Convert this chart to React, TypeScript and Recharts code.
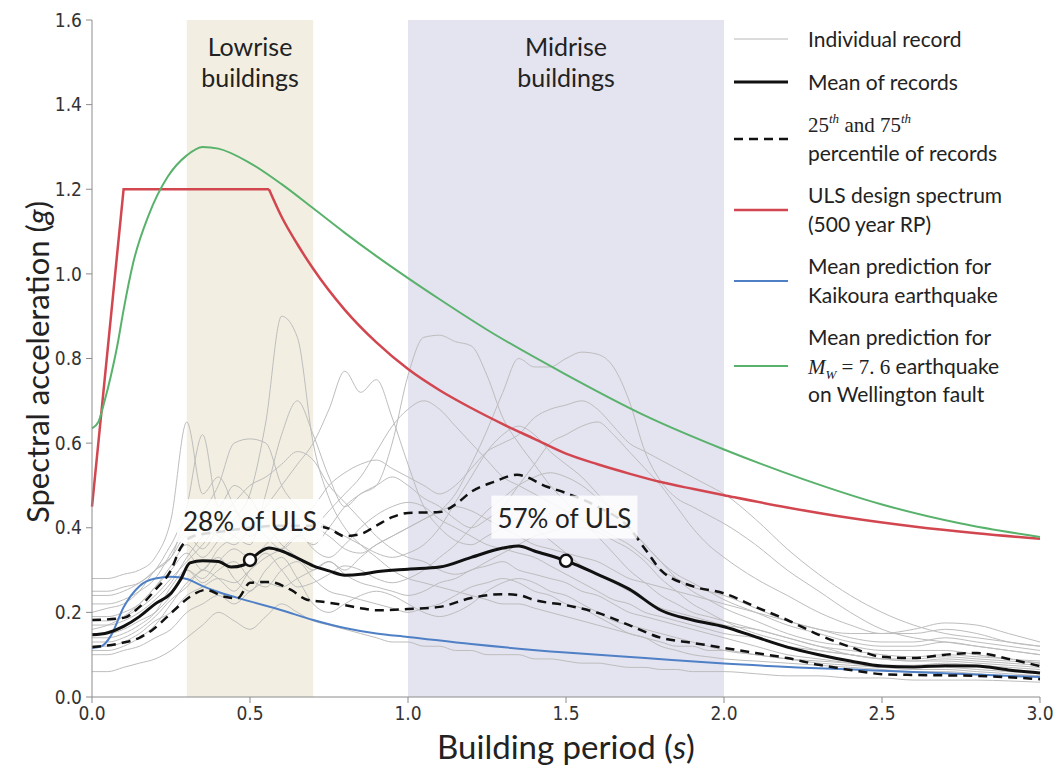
import React from 'react';
import { LineChart, Line, XAxis, YAxis, ReferenceArea, ReferenceDot, Label } from 'recharts';

// building period grid used by the individual records (s)
const PERIODS = [
  0, 0.05, 0.1, 0.15, 0.2, 0.25, 0.3, 0.35, 0.4, 0.45,
  0.5, 0.55, 0.6, 0.65, 0.7, 0.75, 0.8, 0.85, 0.9, 0.95,
  1.0, 1.05, 1.1, 1.15, 1.2, 1.25, 1.3, 1.35, 1.4, 1.45,
  1.5, 1.55, 1.6, 1.65, 1.7, 1.75, 1.8, 1.85, 1.9, 1.95,
  2.0, 2.1, 2.2, 2.3, 2.4, 2.5, 2.6, 2.7, 2.8, 2.9, 3.0,
];

// individual records, spectral acceleration (g) on PERIODS
const RECORD_01 = [
  0.16, 0.17, 0.19, 0.22, 0.26, 0.31, 0.36, 0.33, 0.37, 0.42,
  0.48, 0.65, 0.9, 0.85, 0.6, 0.47, 0.4, 0.36, 0.33, 0.3,
  0.28, 0.27, 0.26, 0.25, 0.24, 0.23, 0.22, 0.22, 0.21, 0.2,
  0.19, 0.18, 0.17, 0.16, 0.15, 0.14, 0.13, 0.12, 0.12, 0.11,
  0.11, 0.1, 0.09, 0.08, 0.075, 0.07, 0.065, 0.065, 0.06, 0.055, 0.05,
];
const RECORD_02 = [
  0.2, 0.21, 0.22, 0.25, 0.3, 0.33, 0.38, 0.35, 0.4, 0.44,
  0.4, 0.45, 0.5, 0.55, 0.6, 0.68, 0.77, 0.72, 0.75, 0.66,
  0.55, 0.45, 0.4, 0.37, 0.36, 0.38, 0.4, 0.42, 0.4, 0.37,
  0.34, 0.31, 0.29, 0.27, 0.25, 0.23, 0.21, 0.2, 0.19, 0.18,
  0.17, 0.16, 0.14, 0.12, 0.1, 0.09, 0.085, 0.09, 0.085, 0.08, 0.075,
];
const RECORD_03 = [
  0.12, 0.12, 0.13, 0.15, 0.18, 0.2, 0.24, 0.26, 0.28, 0.27,
  0.3, 0.33, 0.35, 0.38, 0.36, 0.4, 0.45, 0.48, 0.5, 0.6,
  0.76, 0.85, 0.855, 0.84, 0.83, 0.76, 0.66, 0.6, 0.55, 0.5,
  0.46, 0.42, 0.38, 0.34, 0.3, 0.27, 0.24, 0.22, 0.2, 0.19,
  0.18, 0.16, 0.14, 0.12, 0.11, 0.1, 0.095, 0.1, 0.095, 0.09, 0.08,
];
const RECORD_04 = [
  0.1, 0.1, 0.11, 0.12, 0.14, 0.16, 0.2, 0.22, 0.24, 0.22,
  0.25, 0.27, 0.26, 0.28, 0.3, 0.32, 0.3, 0.33, 0.36, 0.38,
  0.4, 0.42, 0.44, 0.48, 0.55, 0.63, 0.72, 0.8, 0.78, 0.78,
  0.8, 0.815, 0.81, 0.78, 0.7, 0.58, 0.51, 0.47, 0.45, 0.43,
  0.41, 0.36, 0.3, 0.25, 0.2, 0.16, 0.14, 0.13, 0.12, 0.11, 0.1,
];
const RECORD_05 = [
  0.28, 0.28, 0.29, 0.3, 0.33, 0.42, 0.65, 0.48, 0.52, 0.45,
  0.38, 0.4, 0.36, 0.33, 0.3, 0.32, 0.29, 0.27, 0.26, 0.25,
  0.24, 0.25, 0.27, 0.28, 0.3, 0.31, 0.32, 0.3, 0.29, 0.28,
  0.27, 0.25, 0.24, 0.22, 0.2, 0.19, 0.18, 0.17, 0.16, 0.15,
  0.14, 0.12, 0.1, 0.09, 0.08, 0.07, 0.07, 0.07, 0.065, 0.06, 0.055,
];
const RECORD_06 = [
  0.25, 0.25, 0.26, 0.27, 0.3, 0.33, 0.45, 0.62, 0.45, 0.5,
  0.47, 0.42, 0.45, 0.4, 0.35, 0.33, 0.36, 0.4, 0.43, 0.45,
  0.46, 0.45, 0.42, 0.4, 0.38, 0.36, 0.35, 0.34, 0.33, 0.31,
  0.29, 0.27, 0.25, 0.23, 0.22, 0.2, 0.19, 0.18, 0.17, 0.16,
  0.15, 0.14, 0.12, 0.11, 0.1, 0.09, 0.085, 0.085, 0.08, 0.075, 0.07,
];
const RECORD_07 = [
  0.22, 0.22, 0.23, 0.25, 0.28, 0.34, 0.4, 0.44, 0.5, 0.6,
  0.61, 0.6, 0.5, 0.45, 0.42, 0.4, 0.38, 0.36, 0.34, 0.33,
  0.34, 0.36, 0.4, 0.46, 0.52, 0.58, 0.62, 0.64, 0.62, 0.58,
  0.55, 0.52, 0.48, 0.44, 0.4, 0.36, 0.32, 0.29, 0.27, 0.25,
  0.23, 0.2, 0.17, 0.15, 0.13, 0.12, 0.12, 0.13, 0.12, 0.11, 0.1,
];
const RECORD_08 = [
  0.18, 0.18, 0.19, 0.21, 0.24, 0.28, 0.32, 0.36, 0.4, 0.38,
  0.36, 0.48, 0.62, 0.7, 0.62, 0.52, 0.45, 0.48, 0.5, 0.52,
  0.5, 0.47, 0.45, 0.42, 0.4, 0.42, 0.45, 0.5, 0.55, 0.6,
  0.62, 0.64, 0.65, 0.62, 0.58, 0.54, 0.5, 0.45, 0.4, 0.36,
  0.33, 0.28, 0.24, 0.2, 0.17, 0.15, 0.15, 0.16, 0.15, 0.13, 0.12,
];
const RECORD_09 = [
  0.06, 0.06, 0.07, 0.08, 0.09, 0.11, 0.14, 0.17, 0.2, 0.18,
  0.16, 0.19, 0.22, 0.2, 0.18, 0.17, 0.16, 0.15, 0.14, 0.13,
  0.13, 0.12, 0.12, 0.11, 0.11, 0.1, 0.1, 0.1, 0.09, 0.09,
  0.085, 0.08, 0.08, 0.075, 0.07, 0.07, 0.065, 0.065, 0.06, 0.06,
  0.06, 0.055, 0.05, 0.05, 0.045, 0.045, 0.04, 0.04, 0.04, 0.038, 0.035,
];
const RECORD_10 = [
  0.11, 0.11, 0.12, 0.14, 0.17, 0.22, 0.27, 0.3, 0.33, 0.28,
  0.25, 0.3, 0.33, 0.28, 0.22, 0.2, 0.22, 0.24, 0.25, 0.24,
  0.22, 0.2, 0.19, 0.2, 0.22, 0.25, 0.27, 0.28, 0.27, 0.25,
  0.24, 0.22, 0.2, 0.18, 0.17, 0.16, 0.15, 0.14, 0.13, 0.12,
  0.11, 0.1, 0.09, 0.085, 0.08, 0.075, 0.075, 0.08, 0.075, 0.07, 0.065,
];
const RECORD_11 = [
  0.15, 0.15, 0.16, 0.18, 0.2, 0.24, 0.3, 0.28, 0.32, 0.35,
  0.33, 0.36, 0.4, 0.42, 0.45, 0.5, 0.53, 0.55, 0.56, 0.54,
  0.52, 0.5, 0.48, 0.5, 0.54, 0.58, 0.6, 0.62, 0.66, 0.68,
  0.69, 0.7, 0.68, 0.64, 0.6, 0.58, 0.56, 0.54, 0.52, 0.5,
  0.48, 0.42, 0.35, 0.29, 0.24, 0.2, 0.17, 0.15, 0.14, 0.13, 0.12,
];
const RECORD_12 = [
  0.14, 0.14, 0.15, 0.17, 0.2, 0.26, 0.3, 0.27, 0.3, 0.32,
  0.28, 0.26, 0.3, 0.32, 0.28, 0.25, 0.24, 0.23, 0.22, 0.21,
  0.2, 0.21, 0.22, 0.24, 0.26, 0.27, 0.28, 0.27, 0.25, 0.24,
  0.22, 0.21, 0.19, 0.17, 0.15, 0.14, 0.12, 0.11, 0.1, 0.095,
  0.09, 0.085, 0.08, 0.075, 0.07, 0.065, 0.06, 0.06, 0.055, 0.05, 0.05,
];
const RECORD_13 = [
  0.19, 0.19, 0.2, 0.22, 0.26, 0.3, 0.34, 0.3, 0.35, 0.38,
  0.42, 0.38, 0.35, 0.38, 0.4, 0.38, 0.35, 0.34, 0.36, 0.38,
  0.4, 0.42, 0.44, 0.45, 0.44, 0.42, 0.4, 0.38, 0.36, 0.35,
  0.34, 0.33, 0.32, 0.3, 0.28, 0.27, 0.26, 0.25, 0.24, 0.23,
  0.22, 0.2, 0.18, 0.16, 0.15, 0.15, 0.16, 0.175, 0.17, 0.15, 0.13,
];
const RECORD_14 = [
  0.13, 0.13, 0.14, 0.16, 0.19, 0.23, 0.26, 0.3, 0.28, 0.25,
  0.3, 0.34, 0.3, 0.26, 0.27, 0.29, 0.31, 0.3, 0.28, 0.27,
  0.28, 0.3, 0.33, 0.36, 0.4, 0.44, 0.47, 0.5, 0.52, 0.53,
  0.52, 0.5, 0.47, 0.44, 0.4, 0.36, 0.32, 0.28, 0.25, 0.23,
  0.21, 0.18, 0.15, 0.13, 0.12, 0.11, 0.11, 0.11, 0.1, 0.09, 0.085,
];
const RECORD_15 = [
  0.17, 0.17, 0.18, 0.2, 0.23, 0.27, 0.33, 0.38, 0.42, 0.46,
  0.5, 0.52, 0.55, 0.58, 0.56, 0.5, 0.46, 0.42, 0.38, 0.35,
  0.33, 0.32, 0.3, 0.29, 0.3, 0.32, 0.34, 0.36, 0.38, 0.39,
  0.4, 0.4, 0.39, 0.37, 0.35, 0.32, 0.28, 0.25, 0.22, 0.2,
  0.18, 0.15, 0.13, 0.11, 0.1, 0.09, 0.09, 0.095, 0.09, 0.085, 0.08,
];
const RECORD_16 = [
  0.24, 0.24, 0.25, 0.27, 0.3, 0.36, 0.42, 0.4, 0.38, 0.36,
  0.4, 0.44, 0.42, 0.38, 0.4, 0.44, 0.48, 0.52, 0.58, 0.64,
  0.68, 0.7, 0.68, 0.64, 0.6, 0.56, 0.52, 0.5, 0.48, 0.46,
  0.44, 0.42, 0.4, 0.38, 0.36, 0.33, 0.3, 0.28, 0.26, 0.25,
  0.24, 0.21, 0.18, 0.16, 0.14, 0.13, 0.13, 0.14, 0.13, 0.12, 0.11,
];

const RECORDS = [
  RECORD_01, RECORD_02, RECORD_03, RECORD_04, RECORD_05, RECORD_06, RECORD_07, RECORD_08,
  RECORD_09, RECORD_10, RECORD_11, RECORD_12, RECORD_13, RECORD_14, RECORD_15, RECORD_16,
];

// mean of records
const MEAN_T = [
  0, 0.05, 0.1, 0.15, 0.2, 0.25, 0.28, 0.31, 0.35, 0.4, 0.44, 0.48, 0.5, 0.56, 0.6, 0.65,
  0.7, 0.75, 0.8, 0.85, 0.9, 1.0, 1.1, 1.2, 1.3, 1.35, 1.4, 1.5, 1.6, 1.7, 1.8, 1.9,
  2.0, 2.1, 2.2, 2.3, 2.4, 2.5, 2.6, 2.7, 2.8, 2.9, 3.0,
];
const MEAN_SA = [
  0.147, 0.152, 0.167, 0.19, 0.22, 0.245, 0.277, 0.317, 0.322, 0.32, 0.307, 0.312, 0.324, 0.352, 0.345, 0.328,
  0.31, 0.298, 0.288, 0.29, 0.296, 0.302, 0.307, 0.33, 0.352, 0.357, 0.345, 0.322, 0.29, 0.255, 0.205, 0.182,
  0.166, 0.142, 0.118, 0.1, 0.085, 0.073, 0.071, 0.074, 0.073, 0.064, 0.057,
];

// 75th percentile of records
const P75_T = [
  0, 0.1, 0.15, 0.2, 0.25, 0.28, 0.32, 0.4, 0.5, 0.6, 0.7, 0.75, 0.8, 0.85, 0.9, 0.95,
  1.0, 1.1, 1.15, 1.2, 1.27, 1.345, 1.44, 1.5, 1.6, 1.7, 1.75, 1.8, 1.9, 2.0,
  2.1, 2.2, 2.3, 2.4, 2.5, 2.6, 2.7, 2.8, 2.9, 3.0,
];
const P75_SA = [
  0.182, 0.187, 0.213, 0.253, 0.3, 0.352, 0.38, 0.39, 0.4, 0.405, 0.405, 0.398, 0.38, 0.385, 0.405, 0.425,
  0.435, 0.437, 0.455, 0.485, 0.508, 0.525, 0.497, 0.482, 0.45, 0.4, 0.35, 0.3, 0.262, 0.245,
  0.213, 0.182, 0.147, 0.118, 0.095, 0.092, 0.1, 0.104, 0.09, 0.073,
];

// 25th percentile of records
const P25_T = [
  0, 0.09, 0.15, 0.19, 0.26, 0.31, 0.36, 0.42, 0.46, 0.5, 0.56, 0.63, 0.68, 0.73,
  0.8, 0.85, 0.9, 1.0, 1.1, 1.2, 1.3, 1.35, 1.4, 1.5, 1.6, 1.7, 1.8, 1.9, 2.0,
  2.1, 2.2, 2.3, 2.4, 2.5, 2.6, 2.8, 3.0,
];
const P25_SA = [
  0.118, 0.127, 0.14, 0.158, 0.205, 0.237, 0.253, 0.237, 0.233, 0.27, 0.272, 0.253, 0.23, 0.225,
  0.217, 0.21, 0.205, 0.208, 0.213, 0.234, 0.243, 0.241, 0.229, 0.217, 0.199, 0.17, 0.14, 0.128, 0.116,
  0.104, 0.092, 0.076, 0.064, 0.054, 0.052, 0.05, 0.042,
];

// ULS design spectrum (500 year RP): ramp, plateau, then decay from 0.56 s
const ULS_T = [
  0, 0.1, 0.56, 0.6, 0.65, 0.7, 0.8, 0.9, 1.0, 1.1, 1.2, 1.3, 1.4,
  1.5, 1.6, 1.7, 1.8, 1.9, 2.0, 2.2, 2.4, 2.6, 2.8, 3.0,
];
const ULS_SA = [
  0.45, 1.2, 1.2, 1.135, 1.07, 1.012, 0.915, 0.838, 0.775, 0.725, 0.683, 0.645, 0.61,
  0.575, 0.55, 0.528, 0.508, 0.492, 0.477, 0.448, 0.423, 0.403, 0.387, 0.374,
];
const ULS_CORNER = 2; // index of the 0.56 s corner

// mean prediction for Kaikoura earthquake
const KAIKOURA_T = [
  0, 0.03, 0.06, 0.1, 0.15, 0.2, 0.25, 0.3, 0.35, 0.4, 0.5, 0.6, 0.7, 0.8, 0.9, 1.0,
  1.2, 1.5, 1.75, 2.0, 2.5, 3.0,
];
const KAIKOURA_SA = [
  0.116, 0.12, 0.145, 0.212, 0.262, 0.28, 0.284, 0.279, 0.262, 0.248, 0.226, 0.205, 0.182, 0.163, 0.15, 0.142,
  0.125, 0.105, 0.092, 0.079, 0.062, 0.047,
];

// mean prediction for Mw 7.6 Wellington fault earthquake
const WELLINGTON_T = [
  0, 0.02, 0.04, 0.06, 0.08, 0.1, 0.13, 0.18, 0.24, 0.3, 0.35, 0.4, 0.5, 0.6, 0.7, 0.8,
  0.9, 1.0, 1.1, 1.25, 1.5, 1.75, 2.0, 2.25, 2.5, 2.75, 3.0,
];
const WELLINGTON_SA = [
  0.635, 0.65, 0.7, 0.76, 0.83, 0.915, 1.025, 1.14, 1.23, 1.28, 1.3, 1.296, 1.262, 1.212, 1.155, 1.097,
  1.042, 0.99, 0.94, 0.868, 0.762, 0.665, 0.585, 0.515, 0.455, 0.41, 0.378,
];

const Y_TICKS = [0, 0.2, 0.4, 0.6, 0.8, 1.0, 1.2, 1.4, 1.6];
const X_TICKS = [0, 0.5, 1.0, 1.5, 2.0, 2.5, 3.0];

const recordRows = PERIODS.map((t, i) => {
  const row: any = { t };
  RECORDS.forEach((r, j) => { row['r' + j] = r[i]; });
  return row;
});
const toPoints = (ts: number[], vals: number[]) => ts.map((t, i) => ({ t, sa: vals[i] }));

const SANS = 'Lato, "Open Sans", sans-serif';
const NARROW = '"Liberation Sans Narrow", "DejaVu Sans Condensed", "Roboto Condensed", sans-serif';
const MATH = '"Liberation Serif", "DejaVu Serif", serif';

const RED = '#d2464f';
const GREEN = '#59b26c';
const BLUE = '#4f80c6';
const GREY = '#bdbdbd';

const BandLabel = ({ viewBox, lines }: any) => {
  const cx = viewBox.x + viewBox.width / 2;
  return (
    <text textAnchor="middle" fontFamily={SANS} fontSize={25} fill="#222">
      <tspan x={cx} y={viewBox.y + 36}>{lines[0]}</tspan>
      <tspan x={cx} y={viewBox.y + 67}>{lines[1]}</tspan>
    </text>
  );
};

const NoteBox = ({ cx, cy, text }: any) => (
  <g>
    <rect x={cx - 73} y={cy - 22} width={146} height={43} fill="#ffffff" fillOpacity={0.85} />
    <text x={cx} y={cy} textAnchor="middle" dominantBaseline="central" fontFamily={SANS} fontSize={26} fill="#222">
      {text}
    </text>
  </g>
);

const LegendSample = ({ color, width, dash }: any) => (
  <svg width={56} height={8} style={{ display: 'block' }}>
    <line x1={1} y1={4} x2={55} y2={4} stroke={color} strokeWidth={width} strokeDasharray={dash} />
  </svg>
);

const supStyle: any = { fontStyle: 'italic', fontSize: 13, position: 'relative', top: -9 };
const subStyle: any = { fontSize: 13, position: 'relative', top: 5 };

const LEGEND_ITEMS = [
  { color: '#cfcfcf', width: 1.5, lines: [<span>Individual record</span>] },
  { color: '#111', width: 3, lines: [<span>Mean of records</span>] },
  {
    color: '#111', width: 2.5, dash: '9 6',
    lines: [
      <span style={{ fontFamily: MATH }}>25<span style={supStyle}>th</span> and 75<span style={supStyle}>th</span></span>,
      <span>percentile of records</span>,
    ],
  },
  { color: RED, width: 2.5, lines: [<span>ULS design spectrum</span>, <span>(500 year RP)</span>] },
  { color: BLUE, width: 2, lines: [<span>Mean prediction for</span>, <span>Kaikoura earthquake</span>] },
  {
    color: GREEN, width: 2,
    lines: [
      <span>Mean prediction for</span>,
      <span>
        <span style={{ fontFamily: MATH, fontStyle: 'italic' }}>M<span style={subStyle}>W</span></span>
        <span style={{ fontFamily: MATH }}> = 7. 6</span> earthquake
      </span>,
      <span>on Wellington fault</span>,
    ],
  },
];

const ChartLegend = () => (
  <div style={{ position: 'absolute', left: 733, top: 25, fontFamily: SANS, fontSize: 21, color: '#222' }}>
    {LEGEND_ITEMS.map((item, i) => (
      <div key={i} style={{ display: 'flex', alignItems: 'center', marginBottom: 14 }}>
        <LegendSample color={item.color} width={item.width} dash={item.dash} />
        <div style={{ marginLeft: 19, lineHeight: '28.5px' }}>
          {item.lines.map((l, j) => <div key={j} style={{ whiteSpace: 'nowrap', height: 28.5 }}>{l}</div>)}
        </div>
      </div>
    ))}
  </div>
);

export default function App() {
  const axisStroke = '#8c8c8c';
  const tickStyle = { fontSize: 19, fontFamily: NARROW, fill: '#333' };
  return (
    <div style={{ position: 'absolute', left: 0, top: 0, width: 1055, height: 777, background: '#fff' }}>
      <LineChart width={1055} height={777} data={recordRows} margin={{ top: 20, right: 15, left: 42, bottom: 0 }}>
        <ReferenceArea x1={0.3} x2={0.7} y1={0} y2={1.6} fill="#f2efe2" fillOpacity={1} stroke="none"
          label={{ content: (p: any) => <BandLabel viewBox={p.viewBox} lines={['Lowrise', 'buildings']} /> }} />
        <ReferenceArea x1={1.0} x2={2.0} y1={0} y2={1.6} fill="#e4e3f0" fillOpacity={1} stroke="none"
          label={{ content: (p: any) => <BandLabel viewBox={p.viewBox} lines={['Midrise', 'buildings']} /> }} />
        <XAxis dataKey="t" type="number" domain={[0, 3]} ticks={X_TICKS} height={80}
          tickFormatter={(v: number) => v.toFixed(1)} tick={tickStyle}
          stroke={axisStroke} tickLine={{ stroke: axisStroke }} tickSize={6} tickMargin={4}>
          <Label content={(p: any) => (
            <text x={p.viewBox.x + p.viewBox.width / 2} y={p.viewBox.y + 49} textAnchor="middle"
              dominantBaseline="central" fontFamily={SANS} fontSize={33} fill="#222">
              Building period (<tspan fontStyle="italic">s</tspan>)
            </text>
          )} />
        </XAxis>
        <YAxis type="number" domain={[0, 1.6]} ticks={Y_TICKS} width={50}
          tickFormatter={(v: number) => v.toFixed(1)} tick={tickStyle}
          stroke={axisStroke} tickLine={{ stroke: axisStroke }} tickSize={6} tickMargin={4}>
          <Label content={() => (
            <text x={37} y={362} transform="rotate(-90 37 362)" textAnchor="middle"
              dominantBaseline="central" fontFamily={SANS} fontSize={31} fill="#222">
              Spectral acceleration (<tspan fontStyle="italic">g</tspan>)
            </text>
          )} />
        </YAxis>

        {RECORDS.map((_, j) => (
          <Line key={j} dataKey={'r' + j} type="monotone" stroke={GREY} strokeWidth={1}
            dot={false} activeDot={false} isAnimationActive={false} />
        ))}

        <Line data={toPoints(KAIKOURA_T, KAIKOURA_SA)} dataKey="sa" type="monotone" stroke={BLUE}
          strokeWidth={2} dot={false} isAnimationActive={false} />
        <Line data={toPoints(P75_T, P75_SA)} dataKey="sa" type="monotone" stroke="#111"
          strokeWidth={2.5} strokeDasharray="9 6" dot={false} isAnimationActive={false} />
        <Line data={toPoints(P25_T, P25_SA)} dataKey="sa" type="monotone" stroke="#111"
          strokeWidth={2.5} strokeDasharray="9 6" dot={false} isAnimationActive={false} />
        <Line data={toPoints(ULS_T.slice(0, ULS_CORNER + 1), ULS_SA.slice(0, ULS_CORNER + 1))} dataKey="sa"
          type="linear" stroke={RED} strokeWidth={2.5} dot={false} isAnimationActive={false} />
        <Line data={toPoints(ULS_T.slice(ULS_CORNER), ULS_SA.slice(ULS_CORNER))} dataKey="sa"
          type="monotone" stroke={RED} strokeWidth={2.5} dot={false} isAnimationActive={false} />
        <Line data={toPoints(WELLINGTON_T, WELLINGTON_SA)} dataKey="sa" type="monotone" stroke={GREEN}
          strokeWidth={2} dot={false} isAnimationActive={false} />

        <ReferenceDot x={0.5} y={0.416} r={1} shape={(p: any) => <NoteBox cx={p.cx} cy={p.cy} text="28% of ULS" />} />
        <ReferenceDot x={1.495} y={0.424} r={1} shape={(p: any) => <NoteBox cx={p.cx} cy={p.cy} text="57% of ULS" />} />

        <Line data={toPoints(MEAN_T, MEAN_SA)} dataKey="sa" type="monotone" stroke="#111"
          strokeWidth={3} dot={false} isAnimationActive={false} />

        <ReferenceDot x={0.5} y={MEAN_SA[MEAN_T.indexOf(0.5)]} r={6} fill="#fff" stroke="#111" strokeWidth={2.5} />
        <ReferenceDot x={1.5} y={MEAN_SA[MEAN_T.indexOf(1.5)]} r={6} fill="#fff" stroke="#111" strokeWidth={2.5} />
      </LineChart>
      <ChartLegend />
    </div>
  );
}
